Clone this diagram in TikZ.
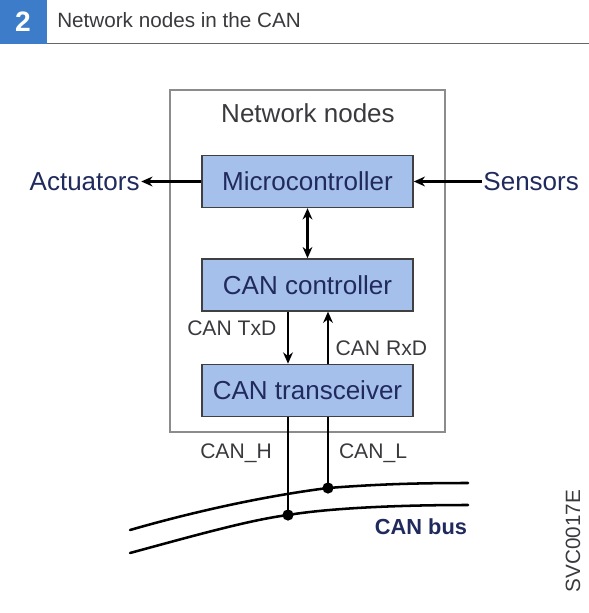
\documentclass[tikz,border=0pt]{standalone}
\usepackage{fontspec}
\setmainfont{Liberation Sans}
\usetikzlibrary{arrows.meta, positioning}

\definecolor{boxblue}{RGB}{166,192,236}
\definecolor{headblue}{RGB}{61,124,201}
\definecolor{navytext}{RGB}{32,42,92}
\definecolor{graytext}{RGB}{58,58,62}

\begin{document}
\begin{tikzpicture}[
        x=0.025cm, y=-0.025cm,
        unit_box/.style={
            draw=black!75,
            fill=boxblue,
            line width=1pt,
            minimum width=5.275cm,
            minimum height=1.3cm,
            text=navytext,
            font=\fontsize{18.5}{22}\selectfont
        },
        frame_box/.style={
            draw=black!45,
            line width=0.8pt,
            minimum width=6.875cm,
            minimum height=8.55cm
        },
        big_text/.style={
            inner sep=1pt,
            font=\fontsize{18.5}{22}\selectfont
        },
        small_text/.style={
            inner sep=1pt,
            text=graytext,
            font=\fontsize{15}{18}\selectfont
        },
        arrow_style/.style={
            -{Stealth[length=8pt, width=7pt]},
            line width=1.5pt
        },
        both_arrow/.style={
            {Stealth[length=8pt, width=7pt]}-{Stealth[length=8pt, width=7pt]},
            line width=1.5pt
        },
        bus_line/.style={
            line width=1.8pt,
            line cap=round
        }
    ]
        \useasboundingbox (0,0) rectangle (589,613);

        % header
        \fill[headblue] (0,0) rectangle (47,44);
        \node[text=white, font=\fontsize{20}{24}\selectfont\bfseries] (fig_num) at (23,22) {2};
        \draw[black!60, line width=1.2pt] (47,43.5) -- (589,43.5);
        \node[anchor=west, inner sep=0pt, text=graytext, font=\fontsize{14.7}{18}\selectfont] (fig_title) at (57,20) {Network nodes in the CAN};

        % network node
        \node[frame_box] (frame) at (307.5,261) {};
        \node[big_text, text=graytext] (frame_title) at (308,113) {Network nodes};
        \node[unit_box] (micro) at (307.5,181.5) {Microcontroller};
        \node[unit_box, below=1.25cm of micro] (can_ctrl) {CAN controller};
        \node[unit_box, below=1.3cm of can_ctrl] (can_trx) {CAN transceiver};

        \node[big_text, text=navytext, left=1.5cm of micro] (actuators) {Actuators};
        \node[big_text, text=navytext, right=1.7cm of micro] (sensors) {Sensors};
        \draw[arrow_style] (micro.west) -- (actuators.east);
        \draw[arrow_style] (sensors.west) -- (micro.east);
        \draw[both_arrow] (micro.south) -- (can_ctrl.north);

        % bus taps
        \coordinate (h_join) at (288,515);
        \coordinate (l_join) at (328,488);
        \draw[arrow_style] (can_ctrl.south -| h_join) -- (can_trx.north -| h_join);
        \draw[arrow_style] (can_trx.north -| l_join) -- (can_ctrl.south -| l_join);
        \node[small_text, anchor=east] (txd) at (278,328) {CAN TxD};
        \node[small_text, anchor=west] (rxd) at (334,348) {CAN RxD};

        \draw[line width=1.6pt] (can_trx.south -| h_join) -- (h_join);
        \draw[line width=1.6pt] (can_trx.south -| l_join) -- (l_join);
        \node[small_text] (can_h) at (236,453) {CAN\_H};
        \node[small_text] (can_l) at (373,453) {CAN\_L};

        % bus
        \coordinate (bus_hi_w) at (130,530);
        \coordinate (bus_hi_e) at (468,483);
        \coordinate (bus_lo_w) at (130,553);
        \coordinate (bus_lo_e) at (468,505);
        \draw[bus_line] (bus_hi_w) .. controls (210,507) and (280,494) .. (l_join)
            .. controls (380,484) and (420,483) .. (bus_hi_e);
        \draw[bus_line] (bus_lo_w) .. controls (200,534) and (250,520) .. (h_join)
            .. controls (330,508) and (400,505) .. (bus_lo_e);
        \fill (h_join) circle[radius=0.14cm];
        \fill (l_join) circle[radius=0.14cm];
        \node[text=navytext, font=\fontsize{15.5}{18}\selectfont\bfseries] (bus_name) at (421,527) {CAN bus};

        \node[small_text, rotate=90, font=\fontsize{14.7}{18}\selectfont] (fig_code) at (573,541) {SVC0017E};
    \end{tikzpicture}
\end{document}
